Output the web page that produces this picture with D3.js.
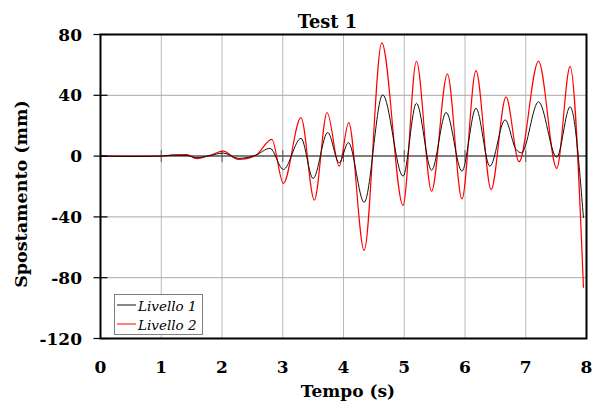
<!DOCTYPE html>
<html>
<head>
<meta charset="utf-8">
<script src="https://cdn.jsdelivr.net/npm/d3@7"></script>
<style>
  html, body { margin: 0; padding: 0; background: #fff; }
  svg { display: block; }
</style>
</head>
<body>
<svg id="chart" width="598" height="403"></svg>
<script>
// ---- data ----
const title = "Test 1";
const xLabel = "Tempo (s)";
const yLabel = "Spostamento (mm)";
const xTicks = [0, 1, 2, 3, 4, 5, 6, 7, 8];
const yTicks = [80, 40, 0, -40, -80, -120];
const seriesNames = ["Livello 1", "Livello 2"];

const t1 = [0, 0.5, 1.0, 1.2, 1.42, 1.58, 1.8, 2.02, 2.27, 2.55, 2.79, 3.01, 3.30, 3.50, 3.74, 3.93, 4.08, 4.34, 4.645, 4.98, 5.20, 5.45, 5.69, 5.95, 6.18, 6.41, 6.66, 6.84, 6.93, 7.21, 7.51, 7.73, 7.95];
const v1 = [0, -0.3, 0, 0.6, 0.5, -1.0, 0.3, 2.0, -1.5, 0.5, 5.1, -8.8, 11.7, -14.7, 15.5, -4.4, 8.9, -30.4, 40.3, -13.2, 34.8, -9.3, 28.7, -9.9, 31.5, -6.6, 23.8, 4.4, 2.2, 35.7, -0.7, 32.4, -40.7];

const t2 = [0, 0.5, 1.0, 1.2, 1.42, 1.58, 1.8, 2.02, 2.27, 2.55, 2.82, 3.01, 3.30, 3.52, 3.73, 3.93, 4.085, 4.34, 4.63, 4.98, 5.20, 5.45, 5.71, 5.95, 6.18, 6.43, 6.675, 6.89, 7.21, 7.51, 7.73, 7.95];
const v2 = [0, 0, 0, 0.8, 1.0, -1.7, 0.5, 3.3, -2.2, 0.3, 11, -18, 25.4, -29, 28.7, -6.6, 22, -62, 74.5, -32.4, 62.4, -23.1, 54, -28.2, 56.2, -22, 39, -3.7, 62.4, -8.1, 58.9, -86.6];

// ---- layout ----
const pLeft = 100.5, pRight = 586.5, pTop = 34.5, pBottom = 338.5;
const svg = d3.select("#chart");
const x = d3.scaleLinear().domain([0, 8]).range([pLeft, pRight]);
const y = d3.scaleLinear().domain([-120, 80]).range([pBottom, pTop]);

const serif = "'DejaVu Serif', serif";

// grid
const vGrid = xTicks.filter(d => d > 0 && d < 8);
svg.append("g").selectAll("line").data(vGrid).join("line")
  .attr("x1", d => x(d)).attr("x2", d => x(d))
  .attr("y1", pTop).attr("y2", pBottom)
  .attr("stroke", "#b9b9b9").attr("stroke-width", 1);
const hGrid = yTicks.filter(d => d !== 0 && d > -120 && d < 80);
svg.append("g").selectAll("line").data(hGrid).join("line")
  .attr("x1", pLeft).attr("x2", pRight)
  .attr("y1", d => y(d)).attr("y2", d => y(d))
  .attr("stroke", "#a8a8a8").attr("stroke-width", 1);

// zero line (horizontal axis crossing at 0)
svg.append("line")
  .attr("x1", pLeft).attr("x2", pRight)
  .attr("y1", y(0)).attr("y2", y(0))
  .attr("stroke", "#555").attr("stroke-width", 1.5);
// x ticks on zero line
svg.append("g").selectAll("line").data(xTicks).join("line")
  .attr("x1", d => x(d)).attr("x2", d => x(d))
  .attr("y1", y(0) - 6).attr("y2", y(0) + 6)
  .attr("stroke", "#555").attr("stroke-width", 1);

// series
svg.append("clipPath").attr("id", "clip")
  .append("rect").attr("x", pLeft).attr("y", pTop).attr("width", pRight - pLeft).attr("height", pBottom - pTop);
const line = d3.line().x(d => x(d[0])).y(d => y(d[1])).curve(d3.curveMonotoneX);
const d2 = t2.map((t, i) => [t, v2[i]]);
const d1 = t1.map((t, i) => [t, v1[i]]);
const gLines = svg.append("g").attr("clip-path", "url(#clip)");
gLines.append("path").attr("d", line(d2)).attr("fill", "none").attr("stroke", "#ff0000").attr("stroke-width", 1.2);
gLines.append("path").attr("d", line(d1)).attr("fill", "none").attr("stroke", "#111").attr("stroke-width", 1);

// border
svg.append("rect").attr("x", pLeft).attr("y", pTop).attr("width", pRight - pLeft).attr("height", pBottom - pTop)
  .attr("fill", "none").attr("stroke", "#000").attr("stroke-width", 2);

// y ticks (cross)
svg.append("g").selectAll("line").data(yTicks).join("line")
  .attr("x1", pLeft - 7).attr("x2", pLeft + 7)
  .attr("y1", d => y(d)).attr("y2", d => y(d))
  .attr("stroke", "#000").attr("stroke-width", 1.2);

// y tick labels
svg.append("g").selectAll("text").data(yTicks).join("text")
  .attr("x", 82).attr("y", d => y(d)).attr("dy", "0.36em")
  .attr("text-anchor", "end")
  .attr("font-family", serif).attr("font-weight", "bold").attr("font-size", 17)
  .text(d => d);

// x tick labels
svg.append("g").selectAll("text").data(xTicks).join("text")
  .attr("x", d => x(d)).attr("y", 372.5)
  .attr("text-anchor", "middle")
  .attr("font-family", serif).attr("font-weight", "bold").attr("font-size", 17)
  .text(d => d);

// titles
svg.append("text").attr("x", 327.5).attr("y", 28.3).attr("text-anchor", "middle")
  .attr("font-family", serif).attr("font-weight", "bold").attr("font-size", 17.8).text(title);
svg.append("text").attr("x", 348).attr("y", 396.5).attr("text-anchor", "middle")
  .attr("font-family", serif).attr("font-weight", "bold").attr("font-size", 17).text(xLabel);
svg.append("text").attr("transform", "translate(27,194) rotate(-90)").attr("text-anchor", "middle")
  .attr("font-family", serif).attr("font-weight", "bold").attr("font-size", 17.5).text(yLabel);

// legend
const leg = svg.append("g");
leg.append("rect").attr("x", 114.5).attr("y", 294.5).attr("width", 88).attr("height", 40)
  .attr("fill", "#fff").attr("stroke", "#7f7f7f").attr("stroke-width", 1);
const legColors = ["#111", "#ff0000"];
const legY = [305, 324];
seriesNames.forEach((name, i) => {
  leg.append("line").attr("x1", 117).attr("x2", 136).attr("y1", legY[i]).attr("y2", legY[i])
    .attr("stroke", legColors[i]).attr("stroke-width", 1);
  leg.append("text").attr("x", 138).attr("y", legY[i] + 5.5)
    .attr("font-family", serif).attr("font-style", "italic").attr("font-size", 13.5)
    .text(name);
});
</script>
</body>
</html>
